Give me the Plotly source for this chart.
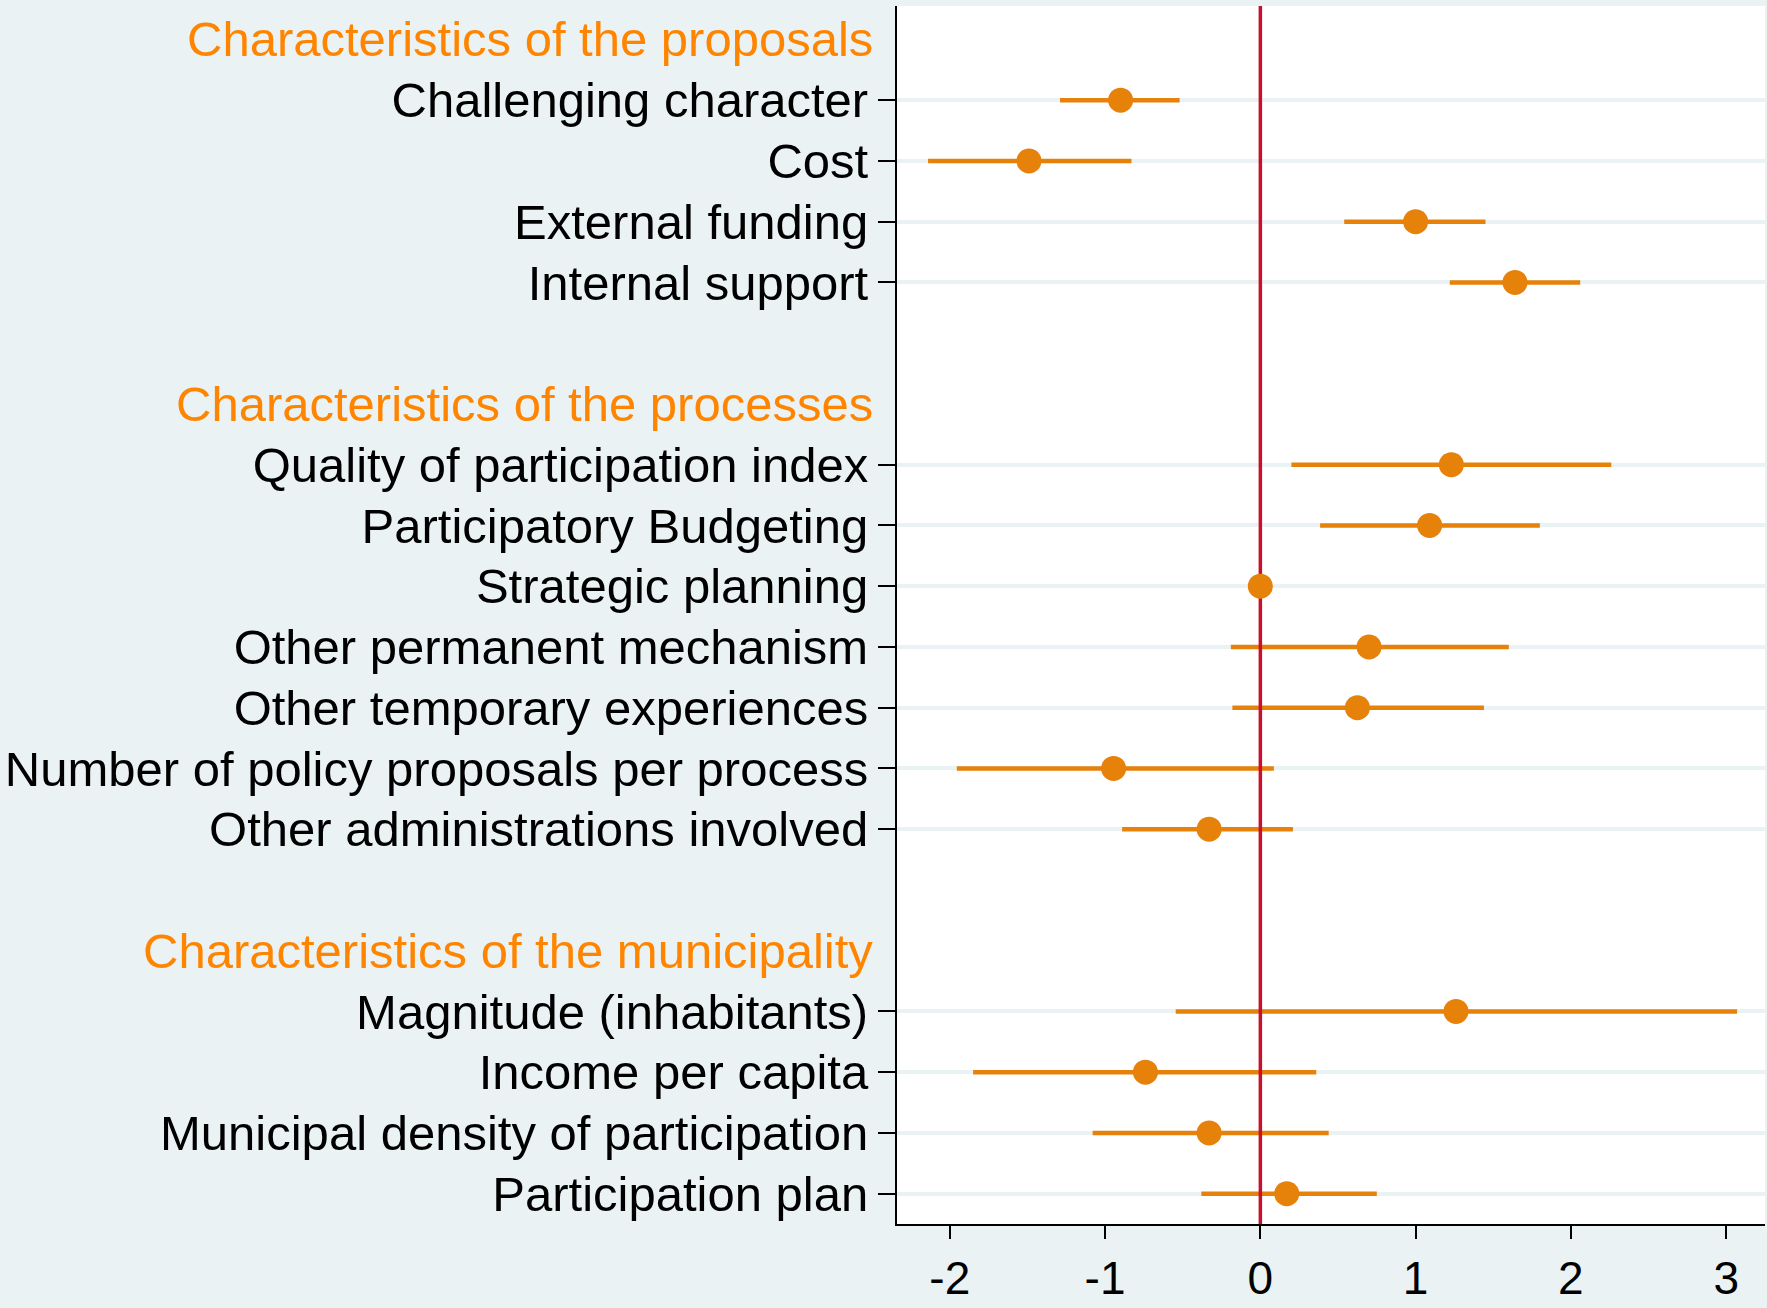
import plotly.graph_objects as go

# ---- data ----
headers = ["Characteristics of the proposals",
           "Characteristics of the processes",
           "Characteristics of the municipality"]
header_rows = [0, 6, 15]

labels = ["Challenging character", "Cost", "External funding", "Internal support",
          "Quality of participation index", "Participatory Budgeting", "Strategic planning",
          "Other permanent mechanism", "Other temporary experiences",
          "Number of policy proposals per process", "Other administrations involved",
          "Magnitude (inhabitants)", "Income per capita",
          "Municipal density of participation", "Participation plan"]
rows = [1, 2, 3, 4, 7, 8, 9, 10, 11, 12, 13, 16, 17, 18, 19]
estimate = [-0.90, -1.49, 1.00, 1.64, 1.23, 1.09, 0.00, 0.70, 0.625, -0.945, -0.33,
            1.26, -0.74, -0.33, 0.17]
ci_low = [-1.29, -2.14, 0.54, 1.22, 0.20, 0.385, 0.00, -0.19, -0.18, -1.955, -0.89,
          -0.545, -1.85, -1.08, -0.38]
ci_high = [-0.52, -0.83, 1.45, 2.06, 2.26, 1.80, 0.00, 1.60, 1.44, 0.087, 0.21,
           3.07, 0.36, 0.44, 0.75]
x_ticks = [-2, -1, 0, 1, 2, 3]

# ---- styles ----
ORANGE = "#E6810A"
HEAD_ORANGE = "#FF8400"
RED = "#C8102E"
BG = "#EAF2F3"
FONT = "Liberation Sans, Arial, Helvetica, sans-serif"
FS = 49
y_range = [19.5, -0.55]
x_range = [-2.34, 3.25]

fig = go.Figure()

# confidence intervals
fig.add_trace(go.Scatter(
    x=estimate, y=rows, mode="markers",
    marker=dict(size=1, color="rgba(0,0,0,0)"),
    error_x=dict(type="data", symmetric=False,
                 array=[h - e for h, e in zip(ci_high, estimate)],
                 arrayminus=[e - l for e, l in zip(estimate, ci_low)],
                 color=ORANGE, thickness=4.5, width=0),
    hoverinfo="skip", showlegend=False))

# reference line at zero
fig.add_trace(go.Scatter(
    x=[0, 0], y=y_range, mode="lines",
    line=dict(color=RED, width=3.5), hoverinfo="skip", showlegend=False))

# point estimates
fig.add_trace(go.Scatter(
    x=estimate, y=rows, mode="markers",
    marker=dict(size=25, color=ORANGE, line=dict(width=0)),
    showlegend=False))

for h, r in zip(headers, header_rows):
    fig.add_annotation(
        x=0, xref="paper", y=r, yref="y", text=h, showarrow=False,
        xanchor="right", yanchor="middle", xshift=-22,
        font=dict(family=FONT, size=FS, color=HEAD_ORANGE))

fig.update_layout(
    width=1767, height=1308,
    margin=dict(l=897, r=2, t=6, b=84),
    paper_bgcolor=BG, plot_bgcolor="white",
    font=dict(family=FONT, size=FS, color="black"),
    showlegend=False,
)
fig.update_xaxes(
    range=x_range, tickvals=x_ticks, ticktext=[str(v) for v in x_ticks],
    showgrid=False, zeroline=False, automargin=False,
    showline=True, linecolor="black", linewidth=2,
    ticks="outside", ticklen=13, tickwidth=2, tickcolor="black",
    tickfont=dict(family=FONT, size=46, color="black"))
fig.update_yaxes(
    range=y_range, tickvals=rows, ticktext=labels,
    showgrid=True, gridcolor=BG, gridwidth=4, zeroline=False, automargin=False,
    showline=True, linecolor="black", linewidth=2,
    ticks="outside", ticklen=17, tickwidth=2, tickcolor="black",
    tickfont=dict(family=FONT, size=FS, color="black"))

fig.write_html("out.html", config={"displayModeBar": False},
               post_script="document.body.style.margin='0';document.body.style.padding='0';")
